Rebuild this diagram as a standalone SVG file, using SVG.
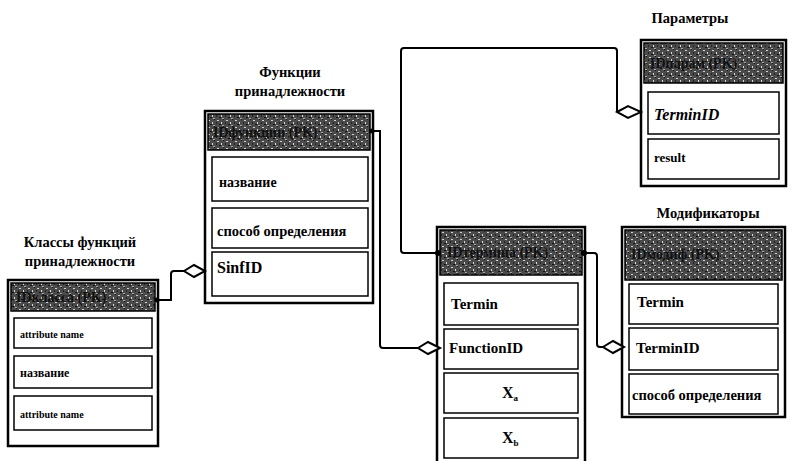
<svg xmlns="http://www.w3.org/2000/svg" width="793" height="461" viewBox="0 0 793 461">
<defs>
<pattern id="noise" width="9" height="7" patternUnits="userSpaceOnUse">
<rect width="9" height="7" fill="#4a4a4a"/>
<rect x="1" y="1" width="2" height="1" fill="#cfcfcf"/>
<rect x="5" y="3" width="1" height="2" fill="#d8d8d8"/>
<rect x="3" y="5" width="2" height="1" fill="#111"/>
<rect x="7" y="0" width="1" height="1" fill="#111"/>
<rect x="6" y="6" width="2" height="1" fill="#aaa"/>
<rect x="0" y="3" width="1" height="2" fill="#222"/>
</pattern>
</defs>
<style>
.frame{fill:#fff;stroke:#000;stroke-width:2.5}
.hdr{fill:url(#noise);stroke:#000;stroke-width:1.5}
.row{fill:#fff;stroke:#000;stroke-width:1.5}
.t{font-family:"Liberation Serif",serif;font-weight:bold;font-size:15px;fill:#000}
.h{font-family:"Liberation Serif",serif;font-weight:bold;font-size:14px;fill:#111}
.title{font-family:"Liberation Serif",serif;font-weight:bold;font-size:14.5px;fill:#000;text-anchor:middle}
.conn{fill:none;stroke:#000;stroke-width:2}
.dia{fill:#fff;stroke:#000;stroke-width:2}
</style>
<rect width="793" height="461" fill="#fff"/>

<g id="classes">
<text class="title" x="80" y="247">Классы функций</text>
<text class="title" x="80" y="266">принадлежности</text>
<rect class="frame" x="8" y="280" width="150" height="166"/>
<rect class="hdr" x="11" y="283" width="144" height="28"/>
<text class="h" x="16" y="302">IDкласса (PK)</text>
<rect class="row" x="14" y="318" width="138" height="30"/>
<text class="t" x="20" y="338" style="font-size:10px">attribute name</text>
<rect class="row" x="14" y="356" width="138" height="32"/>
<text class="t" x="20" y="377" style="font-size:12px">название</text>
<rect class="row" x="14" y="396" width="138" height="34"/>
<text class="t" x="20" y="418" style="font-size:10px">attribute name</text>
</g>

<g id="functions">
<text class="title" x="290" y="77">Функции</text>
<text class="title" x="290" y="96">принадлежности</text>
<rect class="frame" x="205" y="111" width="168" height="192"/>
<rect class="hdr" x="208" y="114" width="162" height="36"/>
<text class="h" x="213" y="137">IDфункции (PK)</text>
<rect class="row" x="212" y="157" width="156" height="44"/>
<text class="t" x="219" y="187" style="font-size:14px">название</text>
<rect class="row" x="212" y="208" width="156" height="40"/>
<text class="t" x="217" y="236" style="font-size:14.5px">способ определения</text>
<rect class="row" x="212" y="252" width="156" height="44"/>
<text class="t" x="217" y="273" style="font-size:16px">SinfID</text>
</g>

<g id="terms">
<rect class="frame" x="437" y="227" width="148" height="240"/>
<rect class="hdr" x="440" y="230" width="142" height="45"/>
<text class="h" x="447" y="257">IDтермина (PK)</text>
<rect class="row" x="444" y="283" width="134" height="42"/>
<text class="t" x="451" y="309">Termin</text>
<rect class="row" x="444" y="329" width="134" height="40"/>
<text class="t" x="449" y="353">FunctionID</text>
<rect class="row" x="444" y="373" width="134" height="40"/>
<text class="t" x="502" y="398" style="font-size:16px">X<tspan style="font-size:9px" dy="3">a</tspan></text>
<rect class="row" x="444" y="418" width="134" height="40"/>
<text class="t" x="502" y="443" style="font-size:16px">X<tspan style="font-size:9px" dy="3">b</tspan></text>
</g>

<g id="params">
<text class="title" x="690" y="23">Параметры</text>
<rect class="frame" x="641" y="40" width="145" height="146"/>
<rect class="hdr" x="644" y="43" width="139" height="40"/>
<text class="h" x="650" y="68">IDпарам (PK)</text>
<rect class="row" x="648" y="92" width="131" height="42"/>
<text class="t" x="654" y="120" font-style="italic" style="font-size:16px">TerminID</text>
<rect class="row" x="648" y="139" width="131" height="40"/>
<text class="t" x="654" y="162" style="font-size:13px">result</text>
</g>

<g id="modifiers">
<text class="title" x="708" y="218">Модификаторы</text>
<rect class="frame" x="622" y="227" width="163" height="190"/>
<rect class="hdr" x="625" y="230" width="157" height="50"/>
<text class="h" x="631" y="259">IDмодиф (PK)</text>
<rect class="row" x="629" y="284" width="149" height="40"/>
<text class="t" x="637" y="307">Termin</text>
<rect class="row" x="629" y="328" width="149" height="42"/>
<text class="t" x="636" y="353">TerminID</text>
<rect class="row" x="629" y="374" width="149" height="40"/>
<text class="t" x="632" y="400" style="font-size:14.5px">способ определения</text>
</g>

<g id="connectors">
<path class="conn" d="M157,300 H171 V274 Q171,271 174,271 H184"/>
<polygon class="dia" points="184,271 194,265 205,271 194,277"/>
<circle cx="157" cy="300" r="2.5"/>

<path class="conn" d="M372,131 H380 V345 Q380,348 383,348 H418"/>
<polygon class="dia" points="418,348 428,342 440,348 428,354"/>
<circle cx="372" cy="131" r="2.5"/>

<path class="conn" d="M438,253 H404 Q401,253 401,250 V51 Q401,48 404,48 H614 Q617,48 617,51 V112"/>
<polygon class="dia" points="617,112 628,106 641,112 628,118"/>
<circle cx="438" cy="253" r="3"/>

<path class="conn" d="M584,253 H594 Q597,253 597,256 V344 Q597,347 600,347 H603"/>
<polygon class="dia" points="603,347 613,341 624,347 613,353"/>
<circle cx="584" cy="253" r="3"/>
</g>
</svg>
